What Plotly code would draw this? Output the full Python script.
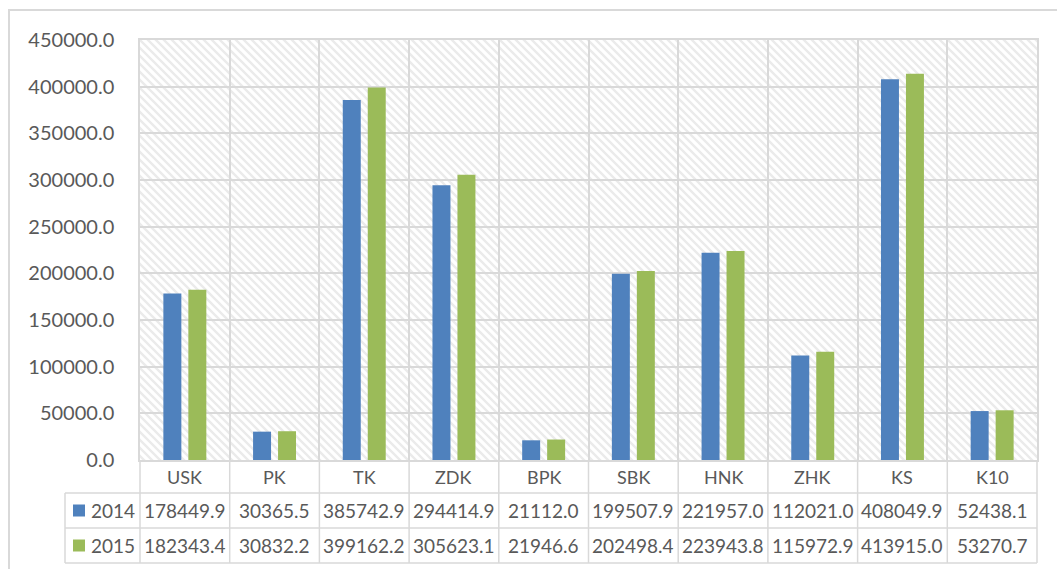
import base64
import plotly.graph_objects as go

# data
categories = ['USK', 'PK', 'TK', 'ZDK', 'BPK', 'SBK', 'HNK', 'ZHK', 'KS', 'K10']
years = ['2014', '2015']
values_2014 = [178449.9, 30365.5, 385742.9, 294414.9, 21112.0, 199507.9, 221957.0, 112021.0, 408049.9, 52438.1]
values_2015 = [182343.4, 30832.2, 399162.2, 305623.1, 21946.6, 202498.4, 223943.8, 115972.9, 413915.0, 53270.7]
colors = ['#4F81BD', '#9BBB59']

W, H = 1057, 569
L, R, T, B = 140, 20, 40, 109
PW, PH = W - L - R, H - T - B
GRID = '#d9d9d9'
TXT = '#595959'
FONT = 'Lato'

def px(x):
    # pixel x -> paper x
    return (x - L) / PW

def py(y):
    # pixel y -> paper y
    return (H - B - y) / PH

fig = go.Figure()
for name, vals, col in zip(years, [values_2014, values_2015], colors):
    fig.add_trace(go.Bar(x=categories, y=vals, name=name, marker=dict(color=col, line=dict(width=0))))

# hatch background of plot area
svg = ('<svg xmlns="http://www.w3.org/2000/svg" width="%d" height="%d">'
       '<defs><pattern id="h" width="8" height="8" patternUnits="userSpaceOnUse">'
       '<path d="M-2,-2 L10,10 M-2,6 L2,10 M6,-2 L10,2" stroke="#ebebeb" stroke-width="2.4"/>'
       '</pattern></defs><rect width="100%%" height="100%%" fill="url(#h)"/></svg>') % (PW, PH)
img = 'data:image/svg+xml;base64,' + base64.b64encode(svg.encode()).decode()

shapes = []
n = len(categories)
# table lines under the plot
rows_y = [460, 493, 528, 563]
for i in range(n + 1):
    x = L + i * PW / n
    shapes.append(dict(type='line', xref='paper', yref='paper', x0=px(x), x1=px(x), y0=py(460), y1=py(563),
                       line=dict(color=GRID, width=1.5)))
shapes.append(dict(type='line', xref='paper', yref='paper', x0=px(65), x1=px(65), y0=py(493), y1=py(563),
                   line=dict(color=GRID, width=1.5)))
for y in rows_y[1:]:
    shapes.append(dict(type='line', xref='paper', yref='paper', x0=px(65), x1=1, y0=py(y), y1=py(y),
                       line=dict(color=GRID, width=1.5)))
# outer chart border
shapes.append(dict(type='rect', xref='paper', yref='paper', x0=px(9), x1=px(1070), y0=py(10), y1=py(590),
                   line=dict(color=GRID, width=2), fillcolor='rgba(0,0,0,0)'))

annotations = []
for c in categories:
    annotations.append(dict(x=c, xref='x', y=py(477), yref='paper', text=c, showarrow=False,
                            font=dict(family=FONT, size=18, color=TXT), xanchor='center', yanchor='middle'))
row_centers = [510.5, 545.5]
for yr, vals, col, yc in zip(years, [values_2014, values_2015], colors, row_centers):
    shapes.append(dict(type='rect', xref='paper', yref='paper', x0=px(73), x1=px(85), y0=py(yc + 6), y1=py(yc - 6),
                       line=dict(width=0), fillcolor=col))
    annotations.append(dict(x=px(89), xref='paper', y=py(yc), yref='paper', text=yr, showarrow=False,
                            font=dict(family=FONT, size=19, color=TXT), xanchor='left', yanchor='middle'))
    for c, v in zip(categories, vals):
        annotations.append(dict(x=c, xref='x', y=py(yc), yref='paper', text='%.1f' % v, showarrow=False,
                                font=dict(family=FONT, size=19, color=TXT), xanchor='center', yanchor='middle'))

fig.update_layout(
    width=W, height=H,
    margin=dict(l=L, r=R, t=T, b=B),
    paper_bgcolor='white', plot_bgcolor='white',
    barmode='group', bargap=0.443, bargroupgap=0.28,
    showlegend=False,
    font=dict(family=FONT, color=TXT),
    shapes=shapes, annotations=annotations,
    images=[dict(source=img, xref='paper', yref='paper', x=0, y=1, sizex=1, sizey=1,
                 xanchor='left', yanchor='top', sizing='stretch', layer='below')],
)
fig.update_xaxes(showticklabels=False, ticks='', tickson='boundaries', showgrid=True, gridcolor=GRID, gridwidth=1.5,
                 showline=True, mirror=True, linecolor=GRID, linewidth=1.5, fixedrange=True)
fig.update_yaxes(range=[0, 450000], dtick=50000, tickformat='.1f', showgrid=True, gridcolor=GRID, gridwidth=1.5,
                 showline=True, mirror=True, linecolor=GRID, linewidth=1.5, zeroline=False,
                 tickfont=dict(family=FONT, size=20, color=TXT), ticklabelstandoff=20, fixedrange=True)

# page body has a default 8px margin; drop it so the chart sits at the window's corner
fig.write_html("out.html", config={'displayModeBar': False},
               post_script="document.body.style.margin='0';")
